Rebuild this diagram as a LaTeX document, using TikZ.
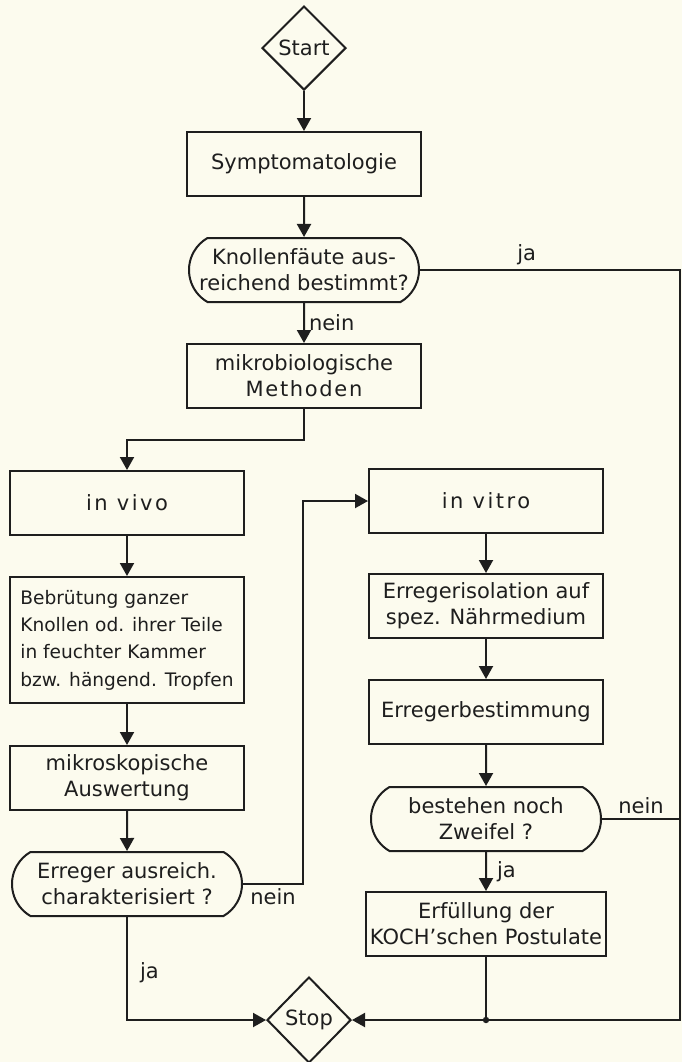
\documentclass[tikz,border=0pt]{standalone}
\usepackage{fontspec}
\setmainfont{DejaVu Sans}
\usepackage{xcolor}
\usepackage{tikz}
\usetikzlibrary{arrows.meta,shapes.geometric,shapes.misc}
\definecolor{Paper}{RGB}{252,251,238}
\definecolor{Ink}{RGB}{30,30,30}

\tikzset{
  every node/.style={font=\fontsize{10.5}{13}\selectfont,text=Ink},
  process/.style={draw=Ink,rectangle,minimum width=117pt,minimum height=32pt,
                  inner sep=2pt,align=center},
  query/.style={draw=Ink,rounded rectangle,rounded rectangle arc length=120,
                minimum width=117pt,minimum height=32pt,inner sep=1pt,align=center},
  terminal/.style={draw=Ink,diamond,minimum width=42pt,minimum height=42pt,inner sep=0pt},
  lbl/.style={inner sep=2pt},
  spaced/.style={font=\fontsize{10.5}{13}\selectfont\addfontfeature{LetterSpace=12}},
}

\begin{document}
\begin{tikzpicture}[x=0.5pt,y=-0.5pt,line width=1pt,draw=Ink,
    >={Triangle[length=6.5pt,width=7pt]}]
  \fill[Paper] (0,0) rectangle (682,1062);
  \useasboundingbox (0,0) rectangle (682,1062);

  % middle column
  \node[terminal] (start) at (304,48) {Start};
  \node[process] (sympt) at (304,164) {Symptomatologie};
  \node[query] (dec1) at (304,270) {Knollenfäute aus-\\reichend bestimmt?};
  \node[process] (mikro) at (304,376) {mikrobiologische\\{\addfontfeature{LetterSpace=8}Methoden}};

  % in vivo
  \node[process,spaced] (invivo) at (127,503) {in vivo};
  \node[process,minimum height=63pt,align=left,
        font=\fontsize{9.3}{13.7}\selectfont] (bebr) at (127,640)
    {Bebrütung ganzer\\Knollen od. ihrer Teile\\in feuchter Kammer\\bzw. hängend. Tropfen};
  \node[process] (mikrosk) at (127,778) {mikroskopische\\Auswertung};
  \node[query] (dec2) at (127,884) {Erreger ausreich.\\charakterisiert ?};

  % in vitro
  \node[process,spaced] (invitro) at (486,501) {in vitro};
  \node[process] (isol) at (486,606) {Erregerisolation auf\\spez. Nährmedium};
  \node[process] (best) at (486,712) {Erregerbestimmung};
  \node[query] (dec3) at (486,819) {bestehen noch\\Zweifel ?};
  \node[process] (koch) at (486,924) {Erfüllung der\\KOCH'schen Postulate};

  \node[terminal,minimum width=42pt,minimum height=43pt] (stop) at (309,1020) {Stop};

  \coordinate (rtop) at (680,270);
  \coordinate (rbot) at (680,1020);

  % connectors
  \draw[->] (start) -- (sympt);
  \draw[->] (sympt) -- (dec1);
  \draw[->] (dec1) -- node[lbl,right]{nein} (mikro);
  \draw[->] (dec1.east) -- node[lbl,above,pos=.41]{ja} (rtop) -- (rbot) -- (stop.east);
  \draw[->] (mikro.south) -- ++(0,31) -| (invivo.north);
  \draw[->] (invivo) -- (bebr);
  \draw[->] (bebr) -- (mikrosk);
  \draw[->] (mikrosk) -- (dec2);
  \draw[->] (dec2.east) -- node[lbl,below]{nein} ++(60,0) |- (invitro.west);
  \draw[->] (dec2.south) |- node[lbl,right,pos=.27,xshift=4pt]{ja} (stop.west);
  \draw[->] (invitro) -- (isol);
  \draw[->] (isol) -- (best);
  \draw[->] (best) -- (dec3);
  \draw[->] (dec3) -- node[lbl,right,xshift=3pt]{ja} (koch);
  \draw (dec3.east) -- node[lbl,above]{nein} (dec3.east -| rtop);
  \draw (koch.south) -- (koch.south |- rbot);
  \fill[Ink] (koch.south |- rbot) circle (1.6pt);
\end{tikzpicture}
\end{document}
